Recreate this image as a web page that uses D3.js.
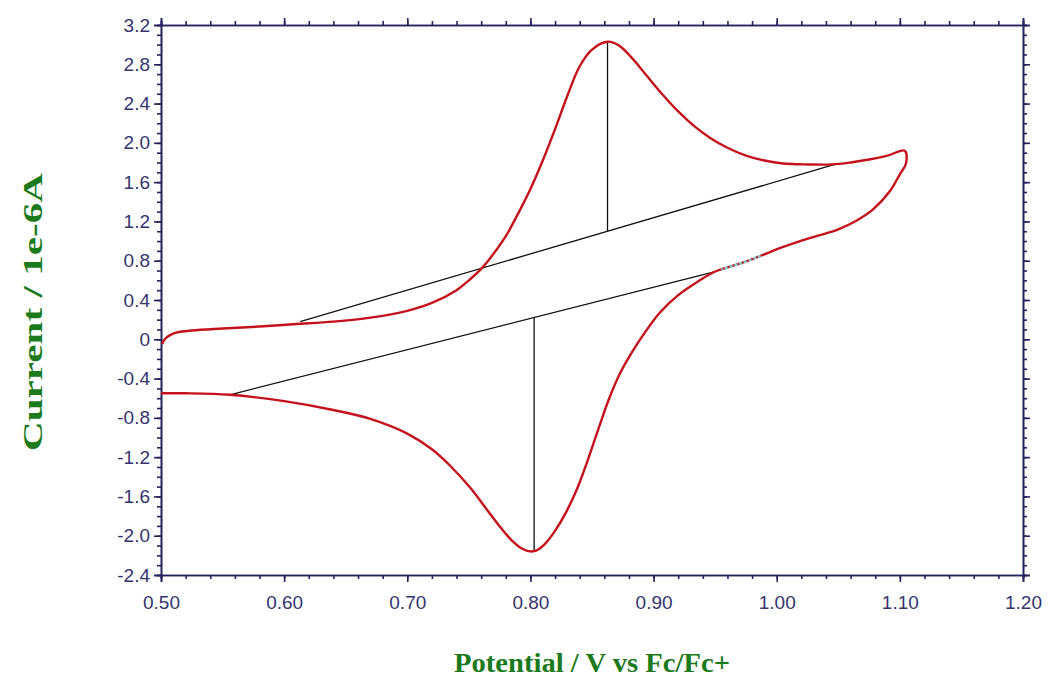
<!DOCTYPE html>
<html>
<head>
<meta charset="utf-8">
<script src="https://cdn.jsdelivr.net/npm/d3@7"></script>
<style>
  html, body { margin: 0; padding: 0; background: #ffffff; }
  svg { display: block; }
</style>
</head>
<body>
<svg id="chart" width="1052" height="689"></svg>
<script>
// ---- data ----
const xTicks = [0.50, 0.60, 0.70, 0.80, 0.90, 1.00, 1.10, 1.20];
const yTicks = [3.2, 2.8, 2.4, 2.0, 1.6, 1.2, 0.8, 0.4, 0, -0.4, -0.8, -1.2, -1.6, -2.0, -2.4];

// forward (anodic) scan
const forwardV = [0.501, 0.503, 0.507, 0.513, 0.525, 0.55, 0.58, 0.61, 0.64, 0.67, 0.70, 0.72, 0.74, 0.75, 0.761, 0.77, 0.78, 0.79, 0.80, 0.81, 0.82, 0.83, 0.84, 0.85, 0.8626, 0.872, 0.882, 0.894, 0.906, 0.92, 0.933, 0.946, 0.96, 0.975, 0.99, 1.005, 1.025, 1.045, 1.06, 1.075, 1.09, 1.104];
const forwardI = [-0.05, 0.00, 0.04, 0.07, 0.09, 0.11, 0.13, 0.155, 0.18, 0.22, 0.29, 0.37, 0.50, 0.60, 0.73, 0.87, 1.05, 1.28, 1.53, 1.82, 2.14, 2.48, 2.78, 2.95, 3.03, 2.99, 2.87, 2.69, 2.51, 2.32, 2.17, 2.05, 1.95, 1.87, 1.82, 1.79, 1.78, 1.78, 1.80, 1.83, 1.87, 1.92];

// reverse (cathodic) scan
const reverseV = [1.104, 1.105, 1.100, 1.092, 1.078, 1.065, 1.05, 1.035, 1.019, 1.003, 0.987, 0.97, 0.95, 0.935, 0.92, 0.905, 0.893, 0.883, 0.873, 0.864, 0.855, 0.846, 0.838, 0.829, 0.820, 0.812, 0.805, 0.800, 0.793, 0.785, 0.776, 0.765, 0.751, 0.735, 0.72, 0.70, 0.67, 0.64, 0.60, 0.556, 0.52, 0.50];
const reverseI = [1.92, 1.79, 1.68, 1.51, 1.32, 1.21, 1.12, 1.06, 1.00, 0.93, 0.85, 0.77, 0.69, 0.58, 0.45, 0.27, 0.07, -0.12, -0.34, -0.60, -0.92, -1.25, -1.52, -1.76, -1.95, -2.08, -2.15, -2.16, -2.13, -2.05, -1.92, -1.74, -1.51, -1.29, -1.12, -0.96, -0.81, -0.72, -0.63, -0.565, -0.55, -0.55];

// small highlighted (cyan) part of reverse scan
const cyanV = [0.987, 0.97, 0.955];
const cyanI = [0.85, 0.77, 0.71];

// baselines and peak markers
const anodicBaseV = [0.613, 1.047];
const anodicBaseI = [0.18, 1.78];
const anodicPeakV = [0.8626, 0.8626];
const anodicPeakI = [3.03, 1.10];
const cathodicBaseV = [0.556, 0.95];
const cathodicBaseI = [-0.565, 0.69];
const cathodicPeakV = [0.803, 0.803];
const cathodicPeakI = [0.22, -2.16];

const xTitle = "Potential / V vs Fc/Fc+";
const yTitle = "Current / 1e-6A";

// ---- layout ----
const W = 1052, H = 689;
const m = { left: 161, right: 29, top: 25, bottom: 114 };
const svg = d3.select("#chart");
const x = d3.scaleLinear().domain([0.5, 1.2]).range([m.left, W - m.right]);
const y = d3.scaleLinear().domain([-2.4, 3.2]).range([H - m.bottom, m.top]);

const axisColor = "#23235e";
const labelColor = "#34346f";
const zip = (a, b) => a.map((v, i) => [v, b[i]]);

// ---- axes ----
const xMinor = d3.range(0, 36).map(i => +(0.5 + i * 0.02).toFixed(2));
const yMinor = d3.range(0, 57).map(i => +(-2.4 + i * 0.1).toFixed(1));

function styleAxis(g) {
  g.select(".domain").attr("stroke", axisColor).attr("stroke-width", 1.6);
  g.selectAll(".tick line").attr("stroke", axisColor).attr("stroke-width", 1.6);
  g.selectAll("text").attr("fill", labelColor)
    .style("font-family", "'Liberation Sans', Arial, sans-serif").style("font-size", "19px");
}

// bottom
svg.append("g").attr("transform", `translate(0,${H - m.bottom})`)
  .call(d3.axisBottom(x).tickValues(xMinor).tickSize(4).tickFormat(""))
  .call(styleAxis);
svg.append("g").attr("transform", `translate(0,${H - m.bottom})`)
  .call(d3.axisBottom(x).tickValues(xTicks).tickSize(7).tickPadding(14).tickFormat(d3.format(".2f")))
  .call(styleAxis);
// top
svg.append("g").attr("transform", `translate(0,${m.top})`)
  .call(d3.axisTop(x).tickValues(xMinor).tickSize(4).tickFormat(""))
  .call(styleAxis);
svg.append("g").attr("transform", `translate(0,${m.top})`)
  .call(d3.axisTop(x).tickValues(xTicks).tickSize(7).tickFormat(""))
  .call(styleAxis);
// left
svg.append("g").attr("transform", `translate(${m.left},0)`)
  .call(d3.axisLeft(y).tickValues(yMinor).tickSize(4).tickFormat(""))
  .call(styleAxis);
svg.append("g").attr("transform", `translate(${m.left},0)`)
  .call(d3.axisLeft(y).tickValues(yTicks).tickSize(7).tickPadding(4)
    .tickFormat(d => d === 0 ? "0" : d.toFixed(1)))
  .call(styleAxis);
// right
svg.append("g").attr("transform", `translate(${W - m.right},0)`)
  .call(d3.axisRight(y).tickValues(yMinor).tickSize(4).tickFormat(""))
  .call(styleAxis);
svg.append("g").attr("transform", `translate(${W - m.right},0)`)
  .call(d3.axisRight(y).tickValues(yTicks).tickSize(7).tickFormat(""))
  .call(styleAxis);

// ---- lines ----
const straight = d3.line().x(d => x(d[0])).y(d => y(d[1]));
const smooth = d3.line().x(d => x(d[0])).y(d => y(d[1])).curve(d3.curveCatmullRom.alpha(0.5));

[[anodicBaseV, anodicBaseI], [anodicPeakV, anodicPeakI], [cathodicBaseV, cathodicBaseI], [cathodicPeakV, cathodicPeakI]]
  .forEach(([v, i]) => {
    svg.append("path").attr("d", straight(zip(v, i)))
      .attr("fill", "none").attr("stroke", "#111111").attr("stroke-width", 1.3);
  });

const loop = zip(forwardV, forwardI).concat(zip(reverseV, reverseI).slice(1));
svg.append("path").attr("d", smooth(loop))
  .attr("fill", "none").attr("stroke", "#c4121c").attr("stroke-width", 2.4)
  .attr("stroke-linejoin", "round");

svg.append("path").attr("d", smooth(zip(cyanV, cyanI)))
  .attr("fill", "none").attr("stroke", "#7fd6d6").attr("stroke-width", 2.4)
  .attr("stroke-dasharray", "3,2");

// ---- titles ----
svg.append("text").attr("x", 592).attr("y", 672).attr("text-anchor", "middle")
  .attr("fill", "#1b7a1b").style("font-family", "'Liberation Serif', 'Times New Roman', serif")
  .style("font-weight", "bold").style("font-size", "28px")
  .attr("textLength", 276).attr("lengthAdjust", "spacingAndGlyphs").text(xTitle);
svg.append("text").attr("transform", "translate(42,312) rotate(-90)").attr("text-anchor", "middle")
  .attr("fill", "#1b7a1b").style("font-family", "'Liberation Serif', 'Times New Roman', serif")
  .style("font-weight", "bold").style("font-size", "28px")
  .attr("textLength", 278).attr("lengthAdjust", "spacingAndGlyphs").text(yTitle);
</script>
</body>
</html>
